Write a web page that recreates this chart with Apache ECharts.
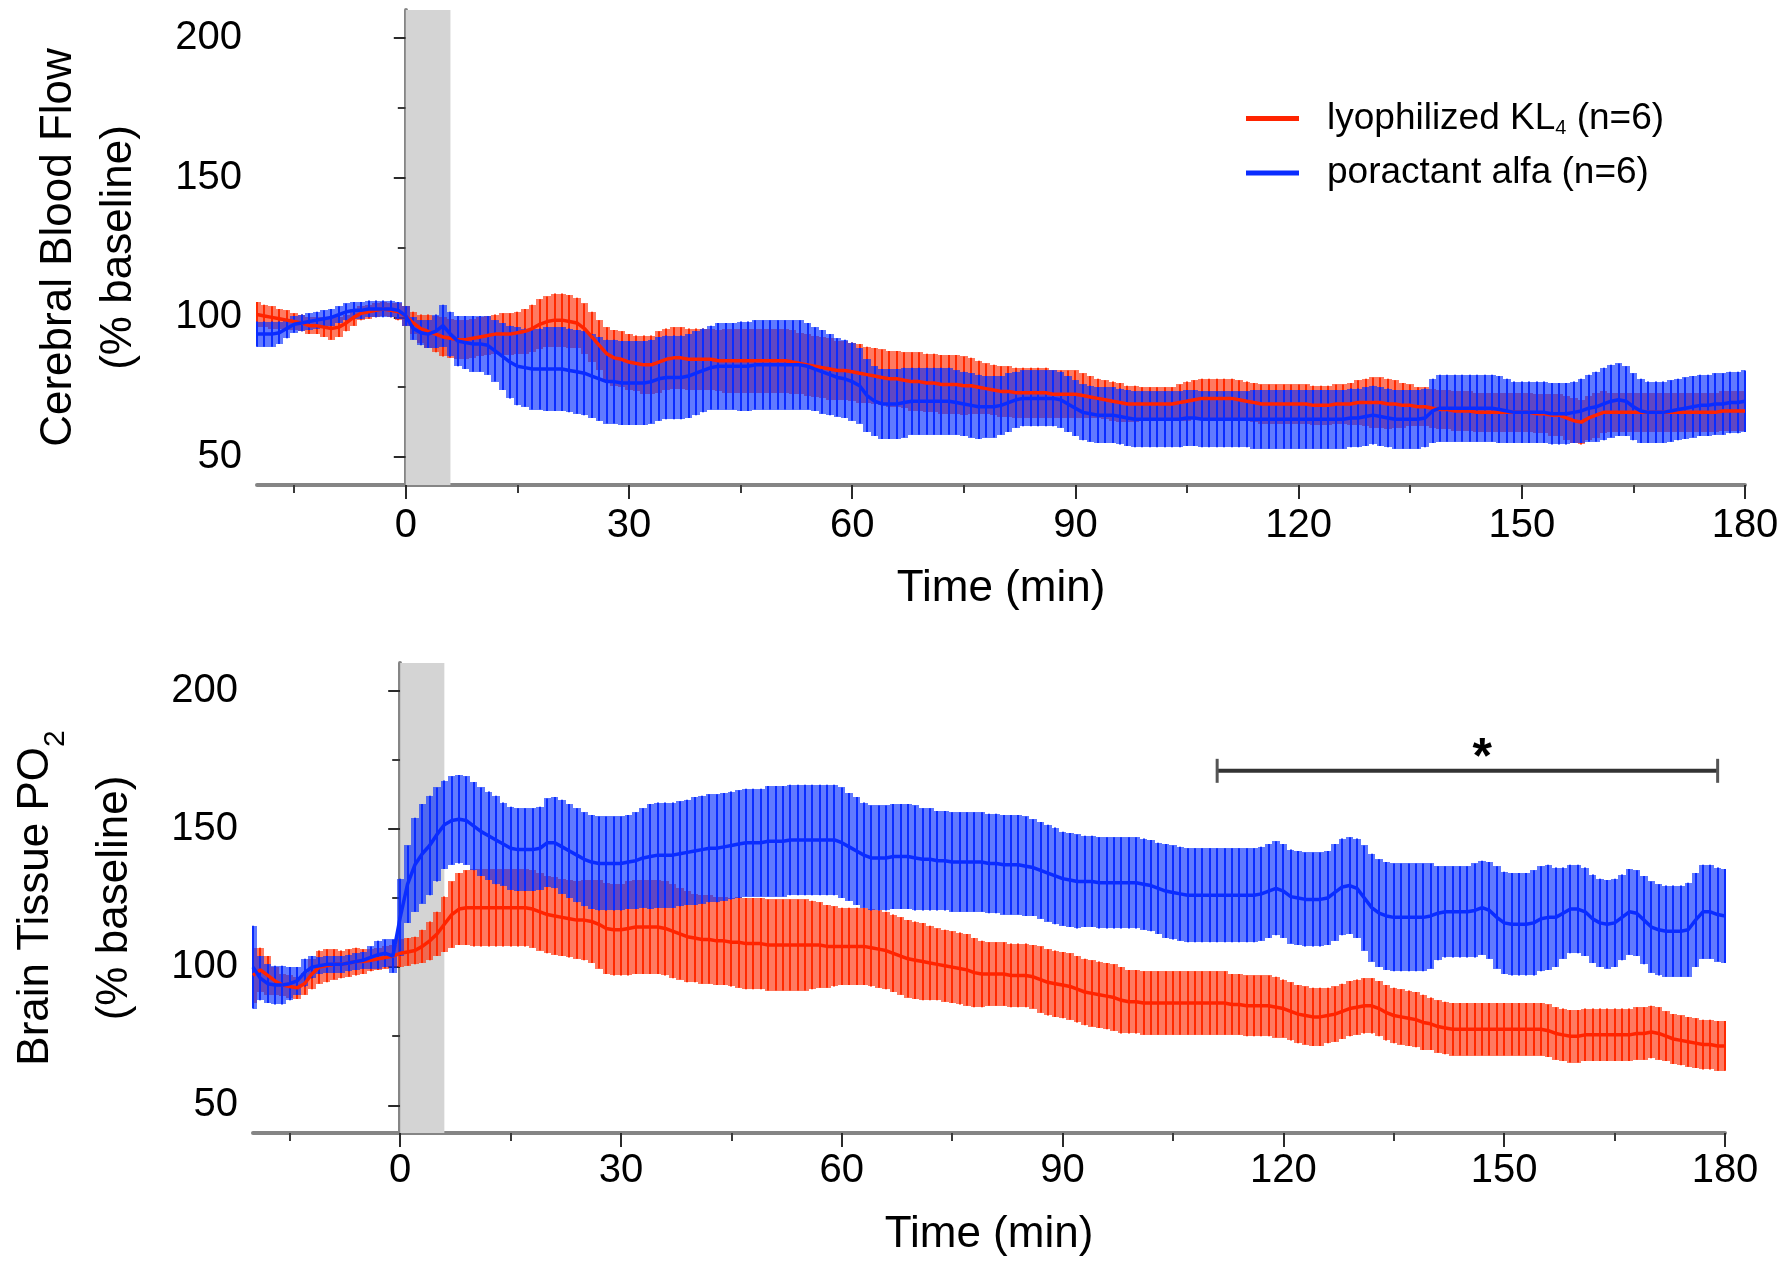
<!DOCTYPE html>
<html><head><meta charset="utf-8">
<script src="https://cdn.jsdelivr.net/npm/echarts@6/dist/echarts.min.js"></script>
<style>html,body{margin:0;padding:0;background:#fff}#c{width:1785px;height:1261px}</style>
</head><body><div id="c"></div>
<script>
// ---------- DATA ----------
const minutes = [-20,-19,-18,-17,-16,-15,-14,-13,-12,-11,-10,-9,-8,-7,-6,-5,-4,-3,-2,-1,
0,1,2,3,4,5,6,7,8,9,10,11,12,13,14,15,16,17,18,19,20,21,22,23,24,25,26,27,28,29,
30,31,32,33,34,35,36,37,38,39,40,41,42,43,44,45,46,47,48,49,50,51,52,53,54,55,56,57,58,59,
60,61,62,63,64,65,66,67,68,69,70,71,72,73,74,75,76,77,78,79,80,81,82,83,84,85,86,87,88,89,
90,91,92,93,94,95,96,97,98,99,100,101,102,103,104,105,106,107,108,109,110,111,112,113,114,115,116,117,118,119,
120,121,122,123,124,125,126,127,128,129,130,131,132,133,134,135,136,137,138,139,140,141,142,143,144,145,146,147,148,149,
150,151,152,153,154,155,156,157,158,159,160,161,162,163,164,165,166,167,168,169,170,171,172,173,174,175,176,177,178,179,180];

// Cerebral blood flow (% baseline) — lyophilized KL4
const cbfRedMean = [101,100.5,100,99.5,99,98.5,98,97,97,96.5,
96,96.5,98,100,101.5,102,102.5,103,102.5,102,
100.5,98,96,95,94,93,92.5,92,92,92.5,
93,93.5,94,94,94,94.5,95,96,97.5,98.5,
99,99,98.5,98,96,93,90,87,85.5,85,
84,83.5,83,83,84,85,85.5,85.5,85,85,
85,85,84.5,84.5,84.5,84.5,84.5,84.5,84.5,84.5,
84.5,84.5,84,83.5,83,82.5,82,81.5,81,81,
80.5,80,79.5,79,78.5,78,78,77.5,77,77,
76.5,76.5,76,76,76,75.5,75.5,75,74.5,74,
73.5,73.5,73,73,73,73,73,72.5,72.5,72.5,
72.5,72,71.5,71,70.5,70,69.5,69,69,69,
69,69,69,69,69.5,70,70.5,71,71,71,
71,71,70.5,70,69.5,69,69,69,69,69,
69,69,68.5,68.5,68.5,69,69,69,69.5,69.5,
69.5,69.5,69,69,68.5,68.5,68,68,67.5,67,
67,66.5,66.5,66.5,66,66,66,66,66,66,
66,66,65.5,65.5,65,65,64,63,62.5,64,
65,66,66,66,66,66,66,66,66,66,
66,66,66,66,66,66,66,66.5,66.5,66.5,
66.5];
const cbfRedErr = [4.5,4,4,3.5,3.5,3,3,3,3,3.5,
4,3.5,3,3,2.5,2.5,2.5,2.5,2.5,3,
3.5,4,5,6,6.5,7,7,7,7,7,
7,7,7,7.5,7.5,7.5,8,8.5,9,9,
9.5,9.5,9.5,9,9,9,9,9.5,10,10,
10,10,10.5,10.5,11,11,11,11,11,11,
11,11,11,11.5,11.5,11.5,11.5,11.5,11.5,11.5,
11.5,11.5,11.5,11,11,11,11,11,10.5,10.5,
10.5,10.5,10,10,10,10,10,10,10.5,10.5,
10.5,10.5,10.5,10.5,10.5,10.5,10,9.5,9,9,
9,9,9,9,9,9,9,8.5,8.5,8.5,
8.5,8,7.5,7,7,7,7,6.5,6.5,6,
6,6,6,6,6.5,7,7,7,7,7,
7,7,7,7,7,7,7,7,7,7,
7,7,7,7,7,7,7,7.5,8,8.5,
9,9,9,8.5,8,7.5,7,7,7,7,
7,7,7,7,7,7,7,7,7,7,
7,7,7,7,7.5,7.5,8,8,8,8,
8,7.5,7,7,7,7,7,7,7,7,
7,7,7,7,7,7,7,7,7,7,
7];
// Cerebral blood flow (% baseline) — poractant alfa
const cbfBlueMean = [94,94,94,94.5,96,97.5,98,98.5,99,99.5,
100,101,102,102.5,102.5,103,103,103,103,102.5,
100.5,96,94.5,94,95,97,94,91.5,91,90.5,
90.5,90,88,86,84,82.5,82,81.5,81.5,81.5,
81.5,81.5,81,80.5,80,79,78,77,77,76.5,
76.5,76.5,76.5,77,78,78.5,78.5,78.5,79,80,
81,82,82.5,82.5,82.5,82.5,82.5,83,83,83,
83,83,83,83,82.5,81.5,80.5,79.5,78.5,78,
77,75.5,72,70,69,69,69,69.5,70,70,
70,70,70,70,69.5,69,68.5,68,68,68,
68.5,69.5,70.5,71,71,71,71,71,70.5,69,
67.5,66,65.5,65,65,65,64.5,64,63.5,63.5,
63.5,63.5,63.5,63.5,63.5,64,64,63.5,63.5,63.5,
63.5,63.5,63.5,63.5,63.5,63.5,63.5,63.5,63.5,63.5,
63.5,63.5,63.5,63.5,63.5,63.5,63.5,64,64,64.5,
65,64.5,64,63.5,63.5,63.5,63.5,64,66.5,67.5,
67.5,67.5,67.5,67.5,67.5,67.5,67.5,67,66.5,66,
66,66,66,66,65.5,65.5,65.5,66,66.5,67.5,
68,69,70,70.5,70,68,66.5,66,66,66,
66.5,67,67.5,68,68.5,68.5,69,69,69.5,69.5,
70];
const cbfBlueErr = [4.5,4.5,4.5,4,3.5,3,3,3,3,3,
3,3,3,3,3,3,3,3,3,3,
3.5,4,4.5,5,6,7.5,8,9,9.5,10,
10,10.5,11,12,13,14,14,14.5,14.5,15,
15,15,15,15,15,15,15,15,15,15,
15,15,15,15,15,15,15,15,15,15,
15,15,15.5,15.5,15.5,16,16,16,16,16,
16,16,16,16,15.5,15,15,14.5,14,14,
14,13.5,13,12.5,12.5,12.5,12.5,12.5,12,12,
12,12,12,12,11.5,11.5,11.5,11.5,11,11,
10.5,10.5,10,10,10,10,10,10,10,10,
10,10,10,10,10,10,10,10,10,10,
10,10,10,10,10,10,10,10,10,10,
10,10,10,10,10.5,10.5,10.5,10.5,10.5,10.5,
10.5,10.5,10.5,10.5,10.5,10.5,10.5,10.5,10.5,10.5,
10.5,10.5,10.5,10.5,10.5,10.5,10.5,10.5,11.5,12,
12,12,12,12,12,12,12,12,11.5,11,
11,11,11,11,11,11,11,11,11.5,12,
12.5,13,13,13,12.5,12,11.5,11,11,11,
11,11,11,11,11,11,11,11,11,11,
11];

// Brain tissue PO2 (% baseline) — lyophilized KL4
const po2RedMean = [97,99,97,95,93.5,93,92.5,94,97.5,100,
100.5,101,101,101.5,102,102,102.5,103,103.5,104,
105,105.5,106,107.5,109.5,112,115.5,119,121,121.5,
121.5,121.5,121.5,121.5,121.5,121.5,121.5,121.5,121,120,
119,118.5,118,117.5,117,117,116.5,115.5,114,113.5,
113.5,114,114.5,114.5,114.5,114.5,114,113,112,111,
110.5,110,110,109.5,109.5,109,109,108.5,108.5,108.5,
108,108,108,108,108,108,108,108,107.5,107.5,
107.5,107.5,107.5,107.5,107,106.5,106,105,104,103,
102.5,102,101.5,101,100.5,100,99.5,99,98,97.5,
97.5,97.5,97.5,97,97,97,96.5,95.5,94.5,94,
93.5,93,92,91,90.5,90,89.5,89,88,87.5,
87.5,87,87,87,87,87,87,87,87,87,
87,87,87,86.5,86.5,86,86,86,86,85.5,
85,84,83,82.5,82,82,82.5,83,84,85,
85.5,86,86,85,83.5,82.5,82,81.5,81,80,
79.5,78.5,78,77.5,77.5,77.5,77.5,77.5,77.5,77.5,
77.5,77.5,77.5,77.5,77.5,77.5,77,76,75.5,75,
75,75.5,75.5,75.5,75.5,75.5,75.5,75.5,76,76,
76.5,76,75,74,73.5,73,72.5,72,72,71.5,
71.5];
const po2RedErr = [10,8,7,5,4,4,4,4,5.5,6,
6,5.5,5,5,5,4.5,4,4,4,4,
5,5,5,6,7,8,10,12,13,13.5,
14,14,14,14,14,14,14,14,14,14,
14,14,14,14,14,14.5,15,16,16.5,16.5,
16.5,17,17,17,17,17,17,17,16.5,16.5,
16,16,16,16,16,16,16.5,16.5,16.5,16.5,
16.5,16.5,16.5,16.5,16.5,16.5,16,15.5,15,14.5,
14,14,14,14,14,14,14,14,14,14,
14,14,13.5,13,13,13,13,13,12.5,12,
11.5,11.5,11.5,11.5,11.5,11.5,11.5,12,12,12,
12,12,12,12,12,12,12,12,12,11.5,
11.5,11.5,11.5,11.5,11.5,11.5,11.5,11.5,11.5,11.5,
11.5,11.5,11.5,11,11,11,11,11,11,11,
10.5,10.5,10.5,10.5,10.5,10.5,10,10,10,10,
10,10,10,10,10,10,10,10,10,10,
9.5,9.5,9.5,9.5,9.5,9.5,9.5,9.5,9.5,9.5,
9.5,9.5,9.5,9.5,9.5,9.5,9.5,9.5,9.5,9.5,
9.5,9.5,9.5,9.5,9.5,9.5,9.5,9.5,9.5,9.5,
9.5,9.5,9,9,9,9,9,9,9,9,
9];
// Brain tissue PO2 (% baseline) — poractant alfa
const po2BlueMean = [100,96,94,93.5,93.5,94,95,98,100,100.5,
101,101,101,101.5,102,102.5,103.5,104.5,105,104,
118,130,137,141,144,148,151.5,153,153.5,153,
151,149,147.5,146,144.5,143,142.5,142.5,142.5,143,
145,145,143.5,142,140.5,139,138,137.5,137.5,137.5,
137.5,138,138.5,139.5,140,140.5,140.5,140.5,141,141.5,
142,142.5,143,143,143.5,144,144.5,145,145,145,
145.5,145.5,145.5,146,146,146,146,146,146,146,
145,143.5,142,140.5,139.5,139.5,139.5,140,140,140,
139.5,139,139,138.5,138.5,138,138,138,138,138,
137.5,137.5,137,137,137,136.5,136,135,134,133,
132,131.5,131,131,131,130.5,130.5,130.5,130.5,130.5,
130.5,130,129.5,128.5,127.5,127,126.5,126,126,126,
126,126,126,126,126,126,126,126.5,127.5,128.5,
127.5,125.5,125,124.5,124.5,124.5,125,127,129,129.5,
128.5,125,121.5,119.5,118.5,118,118,118,118,118,
118.5,119.5,120,120,120,120,120.5,121.5,120.5,118,
116,115.5,115.5,115.5,116,117.5,118,118,119.5,121,
121,120,117.5,116,115.5,116,118,120,119.5,117,
114.5,113.5,113,113,113,113.5,117,120,120,119,
118.5];
const po2BlueErr = [15,8,7,7,7,6,5,5,4,3,
3,3,3,3,3,3,4,5,5,6,
14,14,17,18,18,17,16,16,16,16,
16,16,16,16,15,15,15,15,15,15,
16,16.5,17,17,17,17,17,17,17,17,
17,17,17.5,18,19,19,19,19,19,19,
19.5,19.5,19.5,19.5,19.5,19.5,19.5,19.5,19.5,19.5,
20,20,20,20,20,20,20,20,20,20,
20,19.5,19.5,19,19,19,19,19,19,19,
19,18.5,18.5,18,18,18,18,18,18,18,
18,18,18,18,18,18,17.5,17.5,17.5,17.5,
17,17,17,16.5,16.5,16.5,16.5,16.5,16.5,16.5,
16.5,16.5,16.5,16.5,17,17,17,17,17,17,
17,17,17,17,17,17,17,17,17,17,
17,17,17,17,17,17,17,17.5,17.5,17.5,
18,19,19.5,19.5,19.5,19.5,19.5,19.5,19.5,19.5,
19,17,16.5,16.5,16.5,16.5,17,17,17.5,18.5,
18.5,18.5,18.5,18.5,19,19,19,18,16.5,16,
16,16,16,16,16,16,15.5,15.5,15.5,16,
16.5,16.5,16.5,16.5,16.5,17,17,17,17,17,
17];

const treatmentWindow = [0, 6];          // shaded administration period (min)
const xTickValues = [0, 30, 60, 90, 120, 150, 180];
const xMinorTickValues = [-15, 15, 45, 75, 105, 135, 165];
const yTickValues = [50, 100, 150, 200];
const yMinorTickValues = [75, 125, 175];
const sigBracket = [111, 179, 171];       // start min, end min, level
const sigStarAt = 147;
const redName = 'lyophilized KL4 (n=6)';
const blueName = 'poractant alfa (n=6)';

// ---------- STYLE ----------
const FONT = '"Liberation Sans", Arial, Helvetica, sans-serif';
const RED_LINE = '#ff2400', RED_BAND = 'rgba(255,40,0,0.62)', RED_BAR = '#ff2a00';
const BLUE_LINE = '#0a2cff', BLUE_BAND = 'rgba(0,40,255,0.62)', BLUE_BAR = '#0a2cff';

function pairs(vals) { return minutes.map((t, i) => [t, vals[i]]); }
function bars(m, e) { return minutes.map((t, i) => [t, m[i] - e[i], m[i] + e[i]]); }

// semi-transparent SEM band: one rect per sample, one sample wide
function bandSeries(ax, data, color) {
  return {
    type: 'custom', xAxisIndex: ax, yAxisIndex: ax, data: data, silent: true,
    encode: { x: 0, y: [1, 2] },
    renderItem: function (params, api) {
      const cs = params.coordSys;
      const t = api.value(0);
      const a = api.coord([t - 0.5, api.value(2)]);
      const b = api.coord([t + 0.5, api.value(1)]);
      const x0 = Math.max(Math.round(a[0]), cs.x);
      const x1 = Math.min(Math.round(b[0]), cs.x + cs.width);
      const y0 = Math.round(a[1]), y1 = Math.round(b[1]);
      return { type: 'rect', shape: { x: x0, y: y0, width: x1 - x0, height: y1 - y0 },
               style: { fill: color } };
    }
  };
}
function barSeries(ax, data, color) {
  return {
    type: 'custom', xAxisIndex: ax, yAxisIndex: ax, data: data, silent: true,
    encode: { x: 0, y: [1, 2] },
    renderItem: function (params, api) {
      const a = api.coord([api.value(0), api.value(1)]);
      const b = api.coord([api.value(0), api.value(2)]);
      const x = Math.round(a[0]);
      return { type: 'line', shape: { x1: x, y1: a[1], x2: x, y2: b[1] },
               style: { stroke: color, lineWidth: 2 } };
    }
  };
}
function shadeSeries(ax) {
  return {
    type: 'custom', xAxisIndex: ax, yAxisIndex: ax, silent: true, z: 1,
    data: [treatmentWindow], encode: { x: [0, 1] },
    renderItem: function (params, api) {
      const cs = params.coordSys;
      const x0 = api.coord([api.value(0), 100])[0];
      const x1 = api.coord([api.value(1), 100])[0];
      return { type: 'rect', shape: { x: x0, y: cs.y, width: x1 - x0, height: cs.height },
               style: { fill: '#d4d4d4' } };
    }
  };
}
function meanSeries(ax, name, data, color) {
  return { type: 'line', name: name, xAxisIndex: ax, yAxisIndex: ax, data: data,
           symbol: 'none', silent: true, color: color,
           lineStyle: { color: color, width: 3.5 } };
}
function panel(ax, rm, re, bm, be, withNames) {
  return [
    shadeSeries(ax),
    bandSeries(ax, bars(rm, re), RED_BAND),
    barSeries(ax, bars(rm, re), RED_BAR),
    meanSeries(ax, withNames ? redName : 'r' + ax, pairs(rm), RED_LINE),
    bandSeries(ax, bars(bm, be), BLUE_BAND),
    barSeries(ax, bars(bm, be), BLUE_BAR),
    meanSeries(ax, withNames ? blueName : 'b' + ax, pairs(bm), BLUE_LINE)
  ];
}

const axisLineStyle = { show: true, lineStyle: { color: '#858585', width: 4 } };
function xMajor(grid, gap) {
  return { type: 'value', gridIndex: grid, min: -20, max: 180, position: 'bottom',
    axisLine: axisLineStyle,
    axisTick: { show: true, customValues: xTickValues, length: 14, lineStyle: { color: '#2a2a2a', width: 2 } },
    axisLabel: { customValues: xTickValues, fontSize: 40, color: '#000', fontFamily: FONT, margin: gap.m },
    splitLine: { show: false },
    name: 'Time (min)', nameLocation: 'middle', nameGap: gap.n,
    nameTextStyle: { fontSize: 44, color: '#000', fontFamily: FONT } };
}
function xMinor(grid) {
  return { type: 'value', gridIndex: grid, min: -20, max: 180, position: 'bottom',
    axisLine: { show: false },
    axisTick: { show: true, customValues: xMinorTickValues, length: 8, lineStyle: { color: '#3a3a3a', width: 2 } },
    axisLabel: { show: false }, splitLine: { show: false } };
}
function yMajor(grid, name, rich) {
  return { type: 'value', gridIndex: grid, min: 40, max: 210, position: 'left',
    axisLine: axisLineStyle,
    axisTick: { show: true, customValues: yTickValues, length: 12, lineStyle: { color: '#2a2a2a', width: 2 } },
    axisLabel: { customValues: yTickValues, fontSize: 40, color: '#000', fontFamily: FONT, margin: 15 },
    splitLine: { show: false },
    name: name, nameLocation: 'middle', nameRotate: 90, nameGap: 108,
    nameTextStyle: Object.assign({ fontSize: 44, lineHeight: 60, color: '#000', fontFamily: FONT }, rich ? { rich: rich } : {}) };
}
function yMinor(grid) {
  return { type: 'value', gridIndex: grid, min: 40, max: 210, position: 'left',
    axisLine: { show: false },
    axisTick: { show: true, customValues: yMinorTickValues, length: 8, lineStyle: { color: '#3a3a3a', width: 2 } },
    axisLabel: { show: false }, splitLine: { show: false } };
}

const po2Rich = {
  a: { fontSize: 44, lineHeight: 98, color: '#000', fontFamily: FONT },
  s: { fontSize: 30, lineHeight: 30, verticalAlign: 'middle', padding: [40, 0, 0, 0], color: '#000', fontFamily: FONT },
  b: { fontSize: 44, lineHeight: 60, color: '#000', fontFamily: FONT }
};

const sigSeries = {
  type: 'custom', xAxisIndex: 2, yAxisIndex: 2, silent: true, z: 10,
  data: [sigBracket], encode: { x: [0, 1], y: 2 },
  renderItem: function (params, api) {
    const p0 = api.coord([api.value(0), api.value(2)]);
    const p1 = api.coord([api.value(1), api.value(2)]);
    const ps = api.coord([sigStarAt, api.value(2)]);
    return { type: 'group', children: [
      { type: 'line', shape: { x1: p0[0], y1: p0[1], x2: p1[0], y2: p1[1] }, style: { stroke: '#333', lineWidth: 4 } },
      { type: 'line', shape: { x1: p0[0], y1: p0[1] - 12, x2: p0[0], y2: p0[1] + 12 }, style: { stroke: '#555', lineWidth: 3 } },
      { type: 'line', shape: { x1: p1[0], y1: p1[1] - 12, x2: p1[0], y2: p1[1] + 12 }, style: { stroke: '#555', lineWidth: 3 } },
      { type: 'text', x: ps[0], y: ps[1] - 12,
        style: { text: '*', font: 'bold 50px ' + FONT, fill: '#000', align: 'center', verticalAlign: 'middle' } }
    ] };
  }
};

const chart = echarts.init(document.getElementById('c'), null, { renderer: 'canvas' });
chart.setOption({
  animation: false,
  backgroundColor: '#fff',
  textStyle: { fontFamily: FONT },
  grid: [
    { left: 257, right: 40, top: 10, height: 475, containLabel: false, outerBoundsMode: 'none' },
    { left: 253, right: 60, top: 663, height: 470, containLabel: false, outerBoundsMode: 'none' }
  ],
  xAxis: [ xMajor(0, { m: 21, n: 82 }), xMinor(0), xMajor(1, { m: 18, n: 80 }), xMinor(1) ],
  yAxis: [
    yMajor(0, 'Cerebral Blood Flow\n(% baseline)'), yMinor(0),
    yMajor(1, '{a|Brain Tissue PO}{s|2}\n{b|(% baseline)}', po2Rich), yMinor(1)
  ],
  legend: {
    orient: 'vertical', left: 1241, top: 95, itemWidth: 53, itemHeight: 5, itemGap: 16,
    icon: 'rect', selectedMode: false, data: [redName, blueName],
    formatter: function (n) {
      return n === redName ? '{t|lyophilized KL}{s|4}{t| (n=6)}' : '{t|poractant alfa (n=6)}';
    },
    textStyle: {
      padding: [0, 0, 0, 23],
      rich: {
        t: { fontSize: 37, lineHeight: 40, color: '#000', fontFamily: FONT },
        s: { fontSize: 20, lineHeight: 20, verticalAlign: 'bottom', color: '#000', fontFamily: FONT }
      }
    }
  },
  series: [].concat(
    panel(0, cbfRedMean, cbfRedErr, cbfBlueMean, cbfBlueErr, true),
    panel(2, po2RedMean, po2RedErr, po2BlueMean, po2BlueErr, false),
    [sigSeries]
  )
});
</script>
</body></html>
